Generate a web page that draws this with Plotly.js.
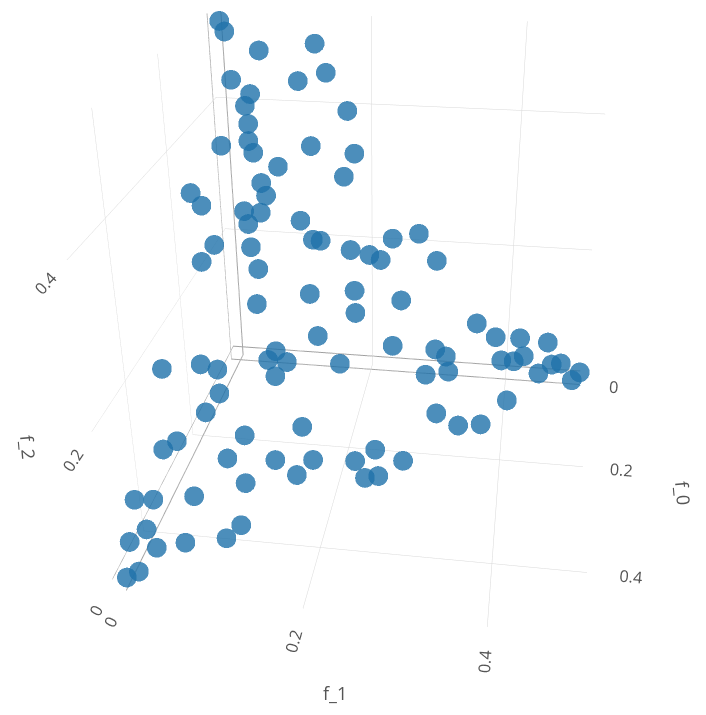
<!DOCTYPE html>
<html>
<head>
<meta charset="utf-8">
<script src="https://cdn.plot.ly/plotly-3.0.1.min.js"></script>
<style>html,body{margin:0;padding:0;background:#fff;overflow:hidden;width:706px;height:715px}#chart{position:absolute;left:-121px;top:-166px;width:1000px;height:911px}</style>
</head>
<body>
<div id="chart"></div>
<script>
// values
const f0 = [.325,.186,.117,.116,.182,.300,.348,.448,.395,.425,.475,.442,.483,.494,.345,.429,.415,
  .390,.311,.264,.211,.181,.259,.286,.252,.247,.000,.017,.019,.060,.013,.000,.000,.000,.000,
  .000,.000,.000,.000,.000,.000,.026,.013,.000,.000,.000,.000,.000,.000,.000,.012,.078,.124,
  .149,.142,.219,.238,.280,.274,.000,.000,.000,.000,.000,.000,.000,.000,.000,.000,.000,.000,
  .000,.026,.000,.000,.000,.000,.000,.000,.169,.130,.000,.000,.000,.000,.000,.000,.089,.000,
  .148,.000,.000,.000,.000,.000,.000,.000,.000,.000,.000];
const f1 = [.000,.000,.000,.000,.000,.000,.000,.000,.000,.000,.000,.017,.010,.000,.032,.047,.092,
  .103,.088,.052,.061,.133,.114,.148,.162,.216,.055,.047,.076,.068,.155,.120,.244,.177,.354,
  .382,.417,.457,.232,.295,.311,.284,.316,.392,.410,.424,.447,.465,.478,.506,.495,.404,.309,
  .341,.371,.238,.277,.234,.250,.001,.007,.052,.127,.141,.103,.012,.037,.029,.169,.032,.031,
  .037,.000,.118,.178,.071,.163,.046,.052,.000,.000,.019,.043,.024,.100,.117,.128,.000,.026,
  .000,.035,.110,.030,.176,.231,.268,.171,.198,.214,.294];
const f2 = [.171,.092,.041,.000,.012,.048,.070,.073,.031,.011,.035,.000,.000,.000,.000,.000,.000,
  .000,.000,.000,.000,.000,.000,.000,.000,.000,.006,.000,.000,.000,.000,.038,.108,.082,.078,
  .057,.058,.054,.030,.029,.018,.000,.000,.018,.018,.028,.000,.017,.020,.007,.000,.000,.000,
  .000,.000,.000,.000,.000,.000,.511,.497,.473,.485,.446,.433,.431,.412,.395,.394,.369,.344,
  .327,.345,.341,.333,.308,.298,.282,.263,.334,.300,.237,.236,.217,.227,.198,.197,.224,.180,
  .227,.145,.109,.086,.119,.207,.217,.185,.179,.172,.176];

const tickVals = [0, 0.2, 0.4];
const tickText = ['0', '0.2', '0.4'];
const axisStyle = {
  showbackground: false,
  gridcolor: '#d8d8d8',
  zerolinecolor: '#a0a0a0',
  zerolinewidth: 2,
  showline: false,
  zeroline: true,
  ticks: 'outside',
  ticklen: 16,
  tickcolor: 'rgba(255,255,255,0)',
  tickvals: tickVals,
  ticktext: tickText,
  tickfont: { family: 'Open Sans, sans-serif', size: 14, color: '#555555' },
  title: { text: ' ' }
};
const titleFont = { family: 'Open Sans, sans-serif', size: 18, color: '#555555' };
function axisTitle(text, x, y, angle) {
  return { text: text, xref: 'paper', yref: 'paper', x: x, y: y, xanchor: 'center', yanchor: 'middle',
    showarrow: false, textangle: angle, font: titleFont };
}

Plotly.newPlot('chart', [{
  type: 'scatter3d',
  mode: 'markers',
  x: f0, y: f1, z: f2,
  marker: { size: 11.5, color: '#1f72aa', opacity: 0.8 }
}], {
  width: 1000,
  height: 911,
  margin: { l: 0, r: 0, t: 0, b: 0 },
  paper_bgcolor: '#ffffff',
  showlegend: false,
  annotations: [
    axisTitle('f_0', 0.804, 0.2766, 85),
    axisTitle('f_1', 0.456, 0.0571, 0),
    axisTitle('f_2', 0.149, 0.3271, 85)
  ],
  scene: {
    camera: { eye: { x: 2.2, y: 0.31, z: 1.13 }, up: { x: 0, y: 0, z: 1 }, center: { x: 0, y: 0, z: 0 } },
    aspectmode: 'cube',
    xaxis: Object.assign({}, axisStyle, { range: [-0.0145, 0.5] }),
    yaxis: Object.assign({}, axisStyle, { range: [-0.0145, 0.508] }),
    zaxis: Object.assign({}, axisStyle, { range: [-0.0145, 0.52] })
  }
}, { displayModeBar: false });
</script>
</body>
</html>
